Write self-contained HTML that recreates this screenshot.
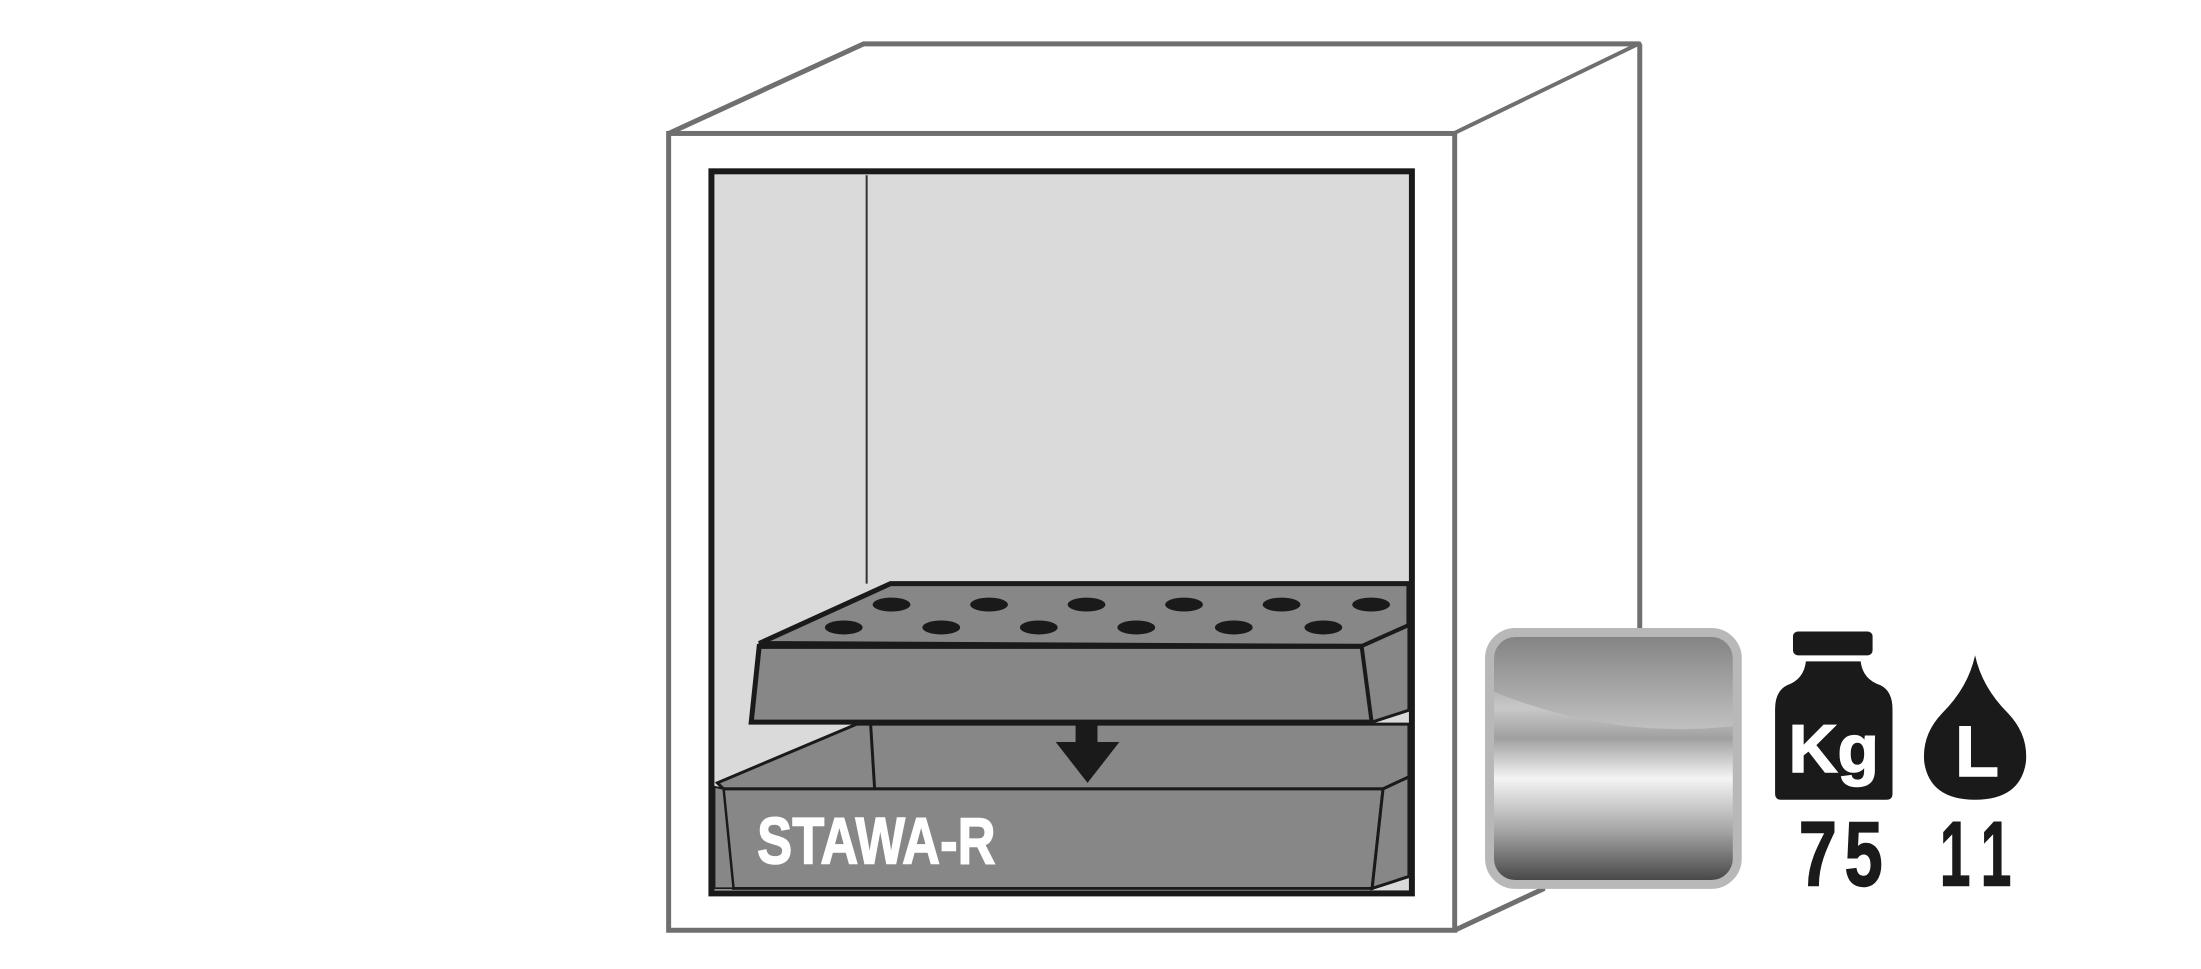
<!DOCTYPE html>
<html><head><meta charset="utf-8"><style>
html,body{margin:0;padding:0;background:#fff;}
svg{display:block;}
</style></head><body>
<svg width="2201" height="969" viewBox="0 0 2201 969" xmlns="http://www.w3.org/2000/svg">
<defs>
<linearGradient id="met" x1="0" y1="0" x2="0" y2="1">
<stop offset="0" stop-color="#7a7a7a"/>
<stop offset="0.3" stop-color="#c8c8c8"/>
<stop offset="0.42" stop-color="#a0a0a0"/>
<stop offset="0.58" stop-color="#f4f4f4"/>
<stop offset="0.78" stop-color="#a8a8a8"/>
<stop offset="1" stop-color="#404040"/>
</linearGradient>
<linearGradient id="top" x1="0" y1="0" x2="0" y2="1">
<stop offset="0" stop-color="#7e7e7e"/>
<stop offset="1" stop-color="#c0c0c0"/>
</linearGradient>
<clipPath id="sw"><rect x="1497" y="635" width="249" height="253" rx="26"/></clipPath>
</defs>
<g transform="scale(0.995 0.996)">
<polygon points="672,134 868,44 1648,44 1462,134" fill="#fff" stroke="#6f6f6f" stroke-width="5"/>
<polygon points="1462,134 1648,44 1648,631 1552,892 1462,934" fill="#fff" stroke="#6f6f6f" stroke-width="3"/>
<line x1="1648" y1="44" x2="1648" y2="631" stroke="#6f6f6f" stroke-width="5"/>
<line x1="1462" y1="934" x2="1552" y2="892" stroke="#6f6f6f" stroke-width="5"/>
<rect x="672" y="134" width="790" height="800" fill="#fff" stroke="#6f6f6f" stroke-width="5"/>
<rect x="715" y="172" width="704" height="725" fill="#dadada" stroke="#1a1a1a" stroke-width="6"/>
<line x1="871" y1="176" x2="871" y2="586" stroke="#333" stroke-width="2"/>
<polygon points="721,786 861,727 1416,727 1416,780 1390,792 727,792" fill="#878787" stroke="#1a1a1a" stroke-width="3"/>
<line x1="875" y1="727" x2="879" y2="792" stroke="#1a1a1a" stroke-width="3"/>
<polygon points="727,792 1390,792 1379,892 737,892" fill="#878787" stroke="#1a1a1a" stroke-width="3"/>
<polygon points="1390,792 1416,780 1416,880 1379,892" fill="#878787" stroke="#1a1a1a" stroke-width="3"/>
<polygon points="718,790 727,792 737,892 718,892" fill="#878787" stroke="#1a1a1a" stroke-width="2"/>
<text x="761" y="867" font-family="Liberation Sans, sans-serif" font-weight="bold" font-size="66" fill="#fff" stroke="#fff" stroke-width="1.5" transform="translate(761 867) scale(0.8 1) translate(-761 -867)">STAWA-R</text>
<rect x="1081" y="725" width="22" height="21" fill="#1a1a1a"/>
<polygon points="1061,745 1125,745 1093,786" fill="#1a1a1a"/>
<polygon points="763,646 895,586 1416,586 1416,628 1369,649" fill="#878787" stroke="#1a1a1a" stroke-width="5"/>
<g fill="#1a1a1a">
<ellipse cx="896" cy="607" rx="19" ry="7"/><ellipse cx="994" cy="607" rx="19" ry="7"/><ellipse cx="1092" cy="607" rx="19" ry="7"/><ellipse cx="1190" cy="607" rx="19" ry="7"/><ellipse cx="1288" cy="607" rx="19" ry="7"/><ellipse cx="1378" cy="607" rx="19" ry="7"/>
<ellipse cx="848" cy="630" rx="19" ry="7"/><ellipse cx="946" cy="630" rx="19" ry="7"/><ellipse cx="1044" cy="630" rx="19" ry="7"/><ellipse cx="1142" cy="630" rx="19" ry="7"/><ellipse cx="1240" cy="630" rx="19" ry="7"/><ellipse cx="1330" cy="630" rx="19" ry="7"/>
</g>
<polygon points="763,649 1369,649 1379,725 755,725" fill="#878787" stroke="#1a1a1a" stroke-width="5"/>
<polygon points="1369,649 1416,628 1416,713 1379,725" fill="#878787" stroke="#1a1a1a" stroke-width="3"/>
<rect x="1497" y="635" width="249" height="253" rx="26" fill="url(#met)"/>
<g clip-path="url(#sw)">
<path d="M1490,630 L1750,630 L1750,728 Q1620,745 1490,690 Z" fill="url(#top)"/>
</g>
<rect x="1497" y="635" width="249" height="253" rx="26" fill="none" stroke="#b8b8b8" stroke-width="9"/>
<rect x="1802" y="634" width="80" height="24" rx="5" fill="#1a1a1a"/>
<path d="M1815,664 L1870,664 Q1872,682 1890,688 Q1902,694 1902,712 L1902,797 Q1902,803 1896,803 L1790,803 Q1784,803 1784,797 L1784,712 Q1784,694 1796,688 Q1813,682 1815,664 Z" fill="#1a1a1a"/>
<text x="1843" y="775" text-anchor="middle" font-family="Liberation Sans, sans-serif" font-weight="bold" font-size="68" fill="#fff" stroke="#fff" stroke-width="1.5">Kg</text>
<path d="M1985,658 Q1992,690 2018,716 Q2039,738 2036,766 Q2030,803 1985,803 Q1940,803 1934,766 Q1931,738 1952,716 Q1978,690 1985,658 Z" fill="#1a1a1a"/>
<text x="1987" y="779" text-anchor="middle" font-family="Liberation Sans, sans-serif" font-weight="bold" font-size="72" fill="#fff" stroke="#fff" stroke-width="1.5">L</text>
<g font-family="Liberation Sans, sans-serif" font-weight="bold" font-size="92" fill="#1a1a1a" stroke="#1a1a1a" stroke-width="1.5" text-anchor="middle">
<text x="1827" y="889" transform="translate(1827 0) scale(0.75 1) translate(-1827 0)">7</text>
<text x="1873" y="889" transform="translate(1873 0) scale(0.75 1) translate(-1873 0)">5</text>
<text x="1965" y="889" transform="translate(1965 0) scale(0.6 1) translate(-1965 0)">1</text>
<text x="2006" y="889" transform="translate(2006 0) scale(0.6 1) translate(-2006 0)">1</text>
</g>
</g>
</svg>
</body></html>
